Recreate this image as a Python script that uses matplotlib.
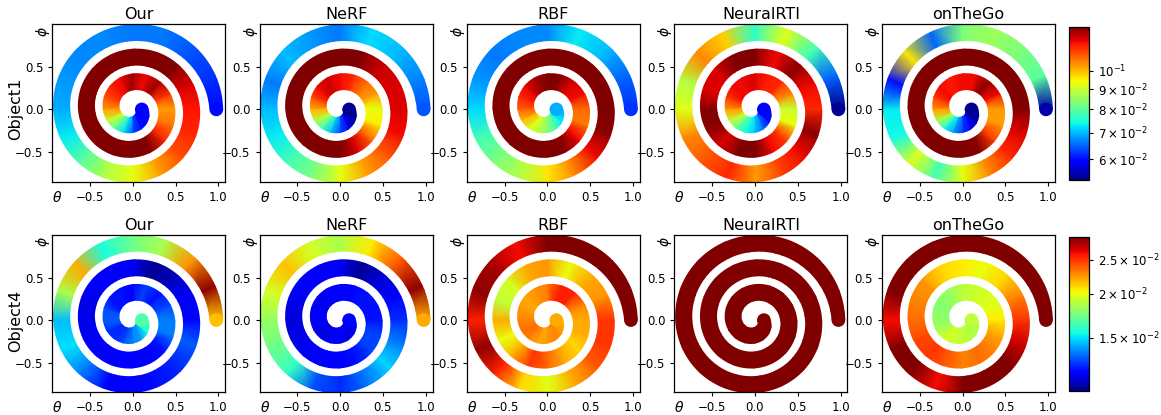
import numpy as np
import matplotlib
matplotlib.use('Agg')
import matplotlib.pyplot as plt
from matplotlib.colors import LogNorm
from matplotlib.patches import Circle
from matplotlib.path import Path
from matplotlib.cm import ScalarMappable

methods = ['Our', 'NeRF', 'RBF', 'NeuralRTI', 'onTheGo']
objects = ['Object1', 'Object4']

# sampling spiral: 3 clockwise turns, one sample every 22.5 deg
n_turns = 3
step_deg = 22.5
r_start, r_end = 0.105, 0.975

# error along the spiral (x 1e-2), 16 samples per turn + end sample
obj1_our = [5.9, 5.9, 5.9, 6.0, 6.3, 7.2, 8.0, 9.0, 10.2, 11.0, 11.5, 11.8, 12.6, 11.8, 12.6, 11.4,
            10.3, 10.6, 11.5, 13.0, 14, 14, 14, 14, 14, 14, 14, 14, 14, 13.5, 13.0, 12.0,
            11.7, 11.5, 11.1, 10.3, 9.3, 8.8, 8.0, 7.3, 6.9, 6.8, 6.7, 6.7, 6.6, 6.6, 6.4, 6.2,
            6.0]
obj1_nerf = [5.4, 5.4, 5.5, 5.8, 6.3, 7.0, 7.8, 8.8, 10.0, 11.0, 11.8, 12.2, 11.8, 11.5, 10.8, 10.3,
             9.3, 9.5, 10.8, 12.0, 14, 14, 14, 14, 14, 14, 14, 14, 14, 13.0, 12.2, 12.0,
             12.0, 11.8, 11.0, 10.3, 9.3, 8.3, 7.8, 7.3, 7.0, 6.6, 7.0, 6.8, 6.6, 7.2, 7.0, 6.7,
             6.4]
obj1_rbf = [6.9, 7.0, 7.3, 7.8, 8.3, 8.8, 9.2, 10.0, 10.8, 11.4, 11.8, 12.5, 13.5, 13.5, 12.0, 11.8,
            10.8, 10.6, 11.8, 13.5, 14, 14, 14, 14, 14, 14, 14, 14, 14, 14, 14, 14,
            14, 12.8, 11.8, 10.5, 9.6, 8.8, 8.3, 7.8, 7.2, 6.8, 6.6, 6.7, 6.7, 7.3, 7.0, 6.5,
            6.2]
obj1_neuralrti = [5.9, 5.9, 6.0, 6.5, 7.0, 7.4, 8.0, 9.0, 10.2, 11.2, 11.8, 11.8, 12.0, 11.6, 11.5, 10.5,
                  9.0, 9.3, 11.2, 11.8, 13.5, 13.5, 12.0, 12.8, 13.5, 12.0, 12.0, 13.5, 13.5, 11.8, 12.8, 11.8,
                  11.5, 12.8, 11.8, 11.2, 10.3, 11.5, 11.0, 10.5, 9.2, 8.8, 10.5, 9.8, 7.6, 9.2, 7.8, 6.5,
                  5.4]
obj1_onthego = [5.4, 5.4, 5.5, 5.9, 6.2, 6.8, 7.4, 8.8, 10.2, 11.2, 11.8, 11.6, 11.8, 11.8, 12.8, 11.8,
                10.3, 10.3, 11.2, 12.8, 14, 14, 14, 14, 14, 14, 14, 14, 14, 14, 14, 13.5,
                13.0, 12.0, 11.5, 10.5, 9.3, 7.8, 9.2, 7.4, 7.3, 6.0, 9.6, 6.5, 8.3, 8.6, 8.3, 8.0,
                5.5]

obj4_our = [1.66, 1.62, 1.55, 1.40, 1.38, 1.30, 1.25, 1.25, 1.32, 1.30, 1.22, 1.22, 1.20, 1.28, 1.22, 1.28,
            1.36, 1.36, 1.22, 1.20, 1.20, 1.20, 1.18, 1.18, 1.16, 1.16, 1.18, 1.18, 1.18, 1.08, 1.12, 1.18,
            1.20, 1.32, 1.25, 1.22, 1.20, 1.20, 1.36, 1.50, 1.45, 1.85, 2.20, 1.55, 1.72, 1.85, 2.25, 2.85,
            2.15]
obj4_nerf = [1.20, 1.18, 1.16, 1.16, 1.18, 1.18, 1.16, 1.16, 1.18, 1.18, 1.16, 1.18, 1.20, 1.20, 1.22, 1.22,
             1.22, 1.28, 1.28, 1.22, 1.20, 1.20, 1.18, 1.16, 1.15, 1.16, 1.18, 1.18, 1.18, 1.08, 1.15, 1.18,
             1.25, 1.36, 1.48, 1.35, 1.25, 1.30, 1.60, 1.72, 1.80, 1.95, 2.15, 1.95, 1.85, 2.05, 2.40, 2.85,
             2.20]
obj4_rbf = [2.20, 2.20, 2.25, 2.30, 2.25, 2.20, 2.30, 2.35, 2.30, 2.25, 2.20, 2.25, 2.30, 2.55, 2.55, 2.30,
            2.20, 2.20, 2.10, 2.20, 2.35, 2.50, 2.20, 2.00, 2.20, 1.90, 1.95, 2.20, 2.25, 2.00, 2.20, 2.25,
            2.50, 2.50, 2.40, 2.20, 1.98, 2.10, 2.55, 2.85, 2.55, 2.85, 2.80, 2.60, 3.00, 3.00, 3.00, 3.00,
            3.00]
obj4_neuralrti = [3.2] * 49
obj4_onthego = [1.90, 1.88, 1.85, 1.88, 1.90, 1.92, 1.95, 1.85, 1.80, 1.78, 1.78, 1.82, 1.88, 1.92, 1.95, 1.98,
                2.05, 2.20, 2.30, 2.35, 2.30, 2.40, 2.50, 2.45, 2.35, 2.30, 2.25, 2.10, 2.05, 2.00, 2.10, 2.30,
                2.50, 2.70, 2.90, 3.00, 2.90, 2.60, 3.00, 2.90, 2.60, 3.00, 3.00, 3.00, 3.00, 3.00, 3.00, 3.00,
                3.00]

errors = [[obj1_our, obj1_nerf, obj1_rbf, obj1_neuralrti, obj1_onthego],
          [obj4_our, obj4_nerf, obj4_rbf, obj4_neuralrti, obj4_onthego]]

# colour ranges of the two rows
row_lims = [(0.0532, 0.129), (0.0106, 0.0289)]
cbar_ticks = [[0.06, 0.07, 0.08, 0.09, 0.1], [0.015, 0.02, 0.025]]

half_w = 0.1       # band half thickness in the middle (data units)
half_w_end = 0.08  # slightly thinner round ends
pad = 0.04         # colour mesh is a bit wider, then clipped to the band

TOTAL = np.deg2rad(360 * n_turns)


def spiral_centre(ang):
    r = r_start + (r_end - r_start) * ang / TOTAL
    ux, uy = np.cos(ang), -np.sin(ang)
    return r * ux, r * uy, ux, uy


def half_width(ang):
    turns = ang / (2 * np.pi)
    t0 = np.clip(turns / 0.3, 0, 1)
    t1 = np.clip((n_turns - turns) / 0.2, 0, 1)
    ramp = np.minimum(np.sin(0.5 * np.pi * t0), np.sin(0.5 * np.pi * t1))
    return half_w_end + (half_w - half_w_end) * ramp


def band_path():
    a = np.linspace(0, TOTAL, 1500)
    cx, cy, ux, uy = spiral_centre(a)
    h = half_width(a)
    outer = np.column_stack([cx + h * ux, cy + h * uy])
    inner = np.column_stack([cx - h * ux, cy - h * uy])
    verts = np.vstack([outer, inner[::-1], outer[:1]])
    codes = [Path.MOVETO] + [Path.LINETO] * (len(verts) - 2) + [Path.CLOSEPOLY]
    return Path(verts, codes)


def draw_spiral(ax, vals, norm):
    vals = np.asarray(vals) * 1e-2
    n = len(vals)
    ang = np.deg2rad(np.arange(n) * step_deg)
    cx, cy, ux, uy = spiral_centre(ang)
    m = half_w + pad
    x = np.concatenate([cx - m * ux, cx + m * ux])
    y = np.concatenate([cy - m * uy, cy + m * uy])
    tris = []
    for k in range(n - 1):
        tris.append([k, k + 1, n + k])
        tris.append([k + 1, n + k + 1, n + k])
    c = np.concatenate([vals, vals])
    tpc = ax.tripcolor(x, y, tris, c, shading='gouraud', cmap='jet', norm=norm, zorder=1)
    tpc.set_clip_path(band_path(), ax.transData)
    cmap = plt.get_cmap('jet')
    for i in (0, -1):
        ax.add_patch(Circle((cx[i], cy[i]), half_w_end,
                            facecolor=cmap(norm(vals[i])), edgecolor='none', zorder=2))


W, H = 1161, 415
fig = plt.figure(figsize=(W / 100, H / 100), dpi=100)

lefts = [52.3, 259.6, 466.9, 674.4, 882.0]
tops = [24.3, 235.0]
ax_w, ax_h = 173.0, 157.4
label_y = [109, 321]

for row in range(2):
    norm = LogNorm(vmin=row_lims[row][0], vmax=row_lims[row][1])
    for col in range(5):
        ax = fig.add_axes([lefts[col] / W, 1 - (tops[row] + ax_h) / H, ax_w / W, ax_h / H])
        ax.set_axisbelow(True)
        ax.grid(True, color='#cccccc', lw=1.1)
        draw_spiral(ax, errors[row][col], norm)
        ax.set_xlim(-0.94, 1.08)
        ax.set_ylim(-0.85, 1.0)
        ax.set_xticks([-0.5, 0.0, 0.5, 1.0])
        ax.set_yticks([-0.5, 0.0, 0.5])
        ax.tick_params(labelsize=8.5, length=3, width=0.8)
        ax.set_title(methods[col], fontsize=11.5, pad=3.5)
        ax.set_xlabel(r'$\theta$', fontsize=10)
        ax.xaxis.set_label_coords(0.03, -0.05)
        ax.set_ylabel(r'$\phi$', fontsize=10)
        ax.yaxis.set_label_coords(0.0, 0.955)
        for s in ax.spines.values():
            s.set_linewidth(0.9)
    fig.text(15.5 / W, 1 - label_y[row] / H, objects[row], rotation=90,
             ha='center', va='center', fontsize=11.5)

    cax = fig.add_axes([1069.3 / W, 1 - (tops[row] + 2.4 + 153.3) / H, 20 / W, 153.3 / H])
    cb = fig.colorbar(ScalarMappable(norm=norm, cmap='jet'), cax=cax)
    cb.set_ticks(cbar_ticks[row])
    cb.ax.minorticks_off()
    cb.ax.tick_params(labelsize=8.5, length=3, width=0.8)
    cb.outline.set_linewidth(0.9)

fig.savefig('out.png', dpi=100)
